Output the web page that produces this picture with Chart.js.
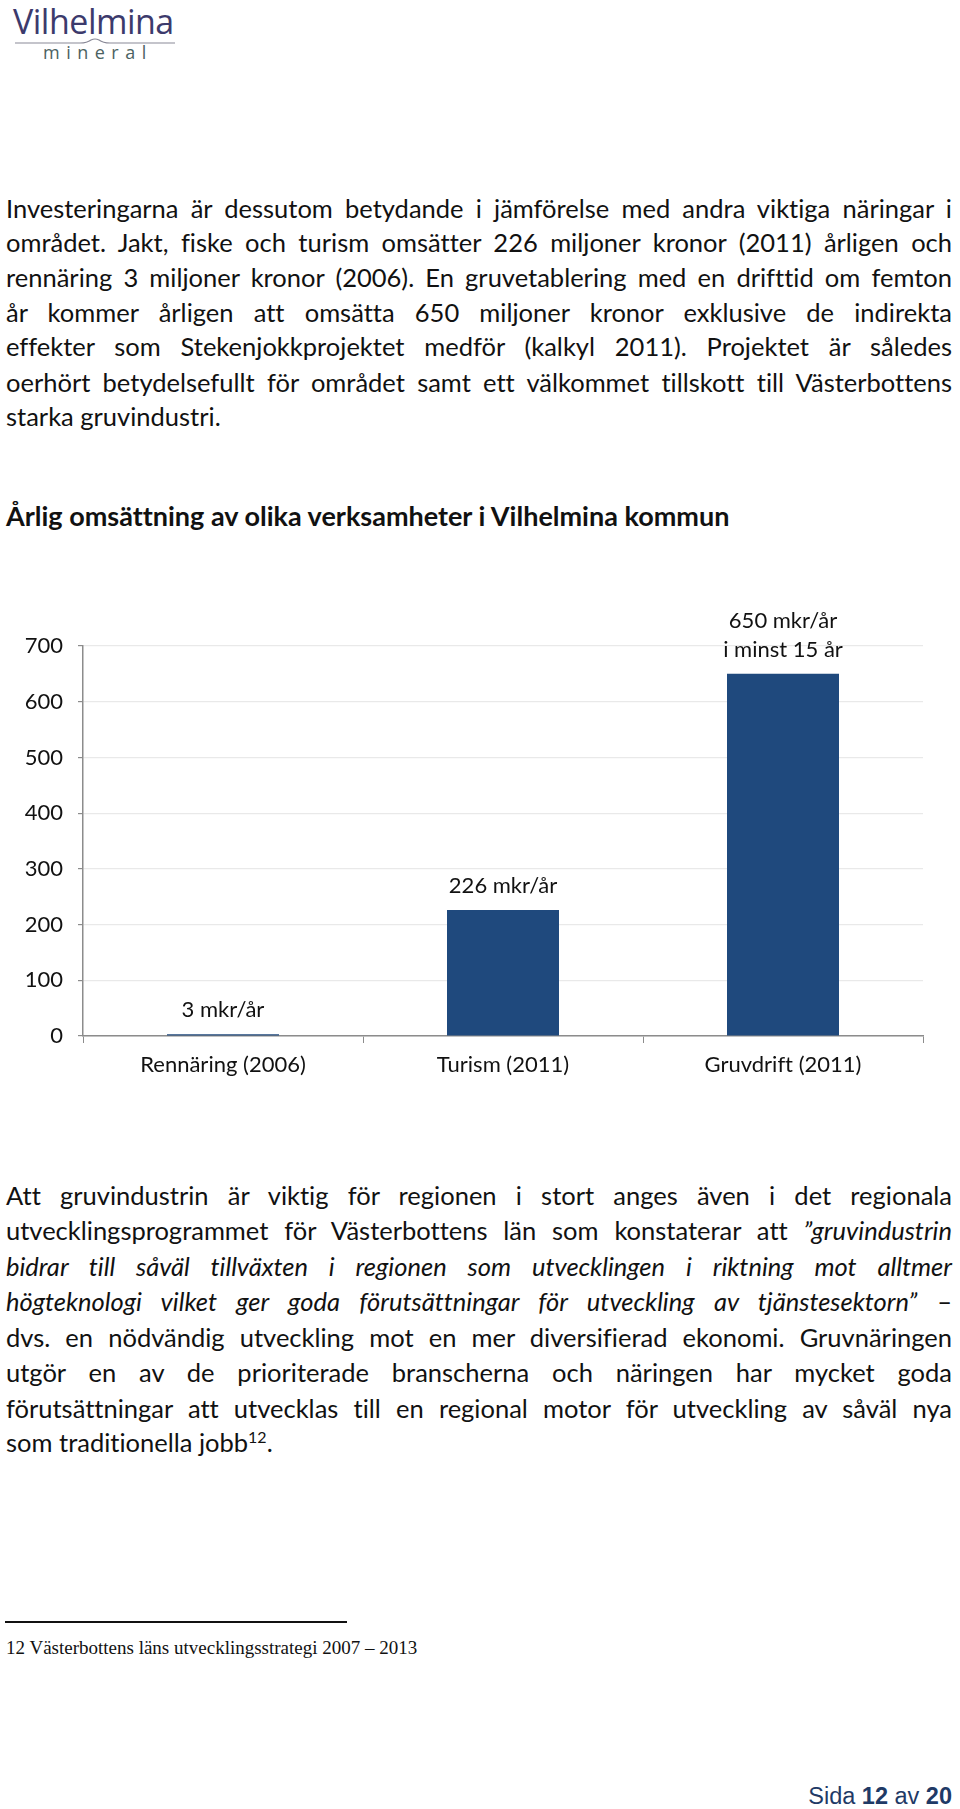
<!DOCTYPE html>
<html>
<head>
<meta charset="utf-8">
<script src="https://cdn.jsdelivr.net/npm/chart.js@4/dist/chart.umd.min.js"></script>
<style>
  html, body { margin:0; padding:0; background:#fff; }
  body { width:960px; height:1809px; position:relative; overflow:hidden; font-variant-ligatures:none; font-feature-settings:"liga" 0; }
  .ln { position:absolute; left:6px; width:946px; font-family:Lato, "Open Sans", sans-serif; font-size:25.5px; line-height:34px; height:34px; color:#111; text-align:justify; text-align-last:justify; }
  .ln.last { text-align-last:left; }
  .title { position:absolute; left:6px; top:499px; font-family:Lato, sans-serif; font-weight:bold; font-size:27px; line-height:34px; color:#111; }
  #logo1 { position:absolute; left:13px; top:0px; font-family:"Open Sans", Lato, sans-serif; font-size:34px; color:#3c3a6c; letter-spacing:-0.5px; line-height:42px; }
  #logo2 { position:absolute; left:43px; top:40px; font-family:"Open Sans", Lato, sans-serif; font-size:18px; color:#4b6262; letter-spacing:6.5px; line-height:24px; }
  #logoline { position:absolute; left:15px; top:37px; width:160px; height:10px; }
  #chartwrap { position:absolute; left:0; top:590px; width:960px; height:500px; }
  #fnline { position:absolute; left:5px; top:1621px; width:342px; height:1.5px; background:#111; }
  #fn { position:absolute; left:6px; top:1636px; font-family:"Liberation Serif", serif; font-size:19px; line-height:24px; color:#111; }
  #page { position:absolute; right:8px; top:1782px; font-family:"Liberation Sans", Arial, sans-serif; font-size:23.5px; line-height:28px; color:#1f3a66; }
  i { font-style:italic; }
</style>
</head>
<body>
<div id="logo1">Vilhelmina</div>
<svg id="logoline" viewBox="0 0 160 10"><path d="M0 6 L65 6 Q72 6 76 3 Q80 1 84 3 Q88 6 95 6 L160 6" stroke="#8a8a98" stroke-width="1.2" fill="none"/></svg>
<div id="logo2">mineral</div>

<div class="ln" style="top:191px">Investeringarna är dessutom betydande i jämförelse med andra viktiga näringar i</div>
<div class="ln" style="top:225px">området. Jakt, fiske och turism omsätter 226 miljoner kronor (2011) årligen och</div>
<div class="ln" style="top:260px">rennäring 3 miljoner kronor (2006). En gruvetablering med en drifttid om femton</div>
<div class="ln" style="top:295px">år kommer årligen att omsätta 650 miljoner kronor exklusive de indirekta</div>
<div class="ln" style="top:329px">effekter som Stekenjokkprojektet medför (kalkyl 2011). Projektet är således</div>
<div class="ln" style="top:365px">oerhört betydelsefullt för området samt ett välkommet tillskott till Västerbottens</div>
<div class="ln last" style="top:399px">starka gruvindustri.</div>

<div class="title">Årlig omsättning av olika verksamheter i Vilhelmina kommun</div>

<div id="chartwrap"><canvas id="c" width="960" height="500"></canvas></div>

<div class="ln" style="top:1178px">Att gruvindustrin är viktig för regionen i stort anges även i det regionala</div>
<div class="ln" style="top:1213px">utvecklingsprogrammet för Västerbottens län som konstaterar att <i>”gruvindustrin</i></div>
<div class="ln" style="top:1249px"><i>bidrar till såväl tillväxten i regionen som utvecklingen i riktning mot alltmer</i></div>
<div class="ln" style="top:1284px"><i>högteknologi vilket ger goda förutsättningar för utveckling av tjänstesektorn”</i> –</div>
<div class="ln" style="top:1320px">dvs. en nödvändig utveckling mot en mer diversifierad ekonomi. Gruvnäringen</div>
<div class="ln" style="top:1355px">utgör en av de prioriterade branscherna och näringen har mycket goda</div>
<div class="ln" style="top:1391px">förutsättningar att utvecklas till en regional motor för utveckling av såväl nya</div>
<div class="ln last" style="top:1425px">som traditionella jobb<sup style="font-size:16px;line-height:0">12</sup>.</div>

<div id="fnline"></div>
<div id="fn">12 Västerbottens läns utvecklingsstrategi 2007 – 2013</div>
<div id="page">Sida <b>12</b> av <b>20</b></div>

<script>
// keep every text line on one row
document.querySelectorAll('.ln').forEach(el => {
  let ls = 0;
  while (el.scrollHeight > 40 && ls > -2) { ls -= 0.1; el.style.letterSpacing = ls.toFixed(2) + 'px'; }
});

const categories = ["Rennäring (2006)", "Turism (2011)", "Gruvdrift (2011)"];
const values = [3, 226, 650];
const barLabels = [["3 mkr/år"], ["226 mkr/år"], ["650 mkr/år", "i minst 15 år"]];
const yTicks = [0, 100, 200, 300, 400, 500, 600, 700];

const FONT = "Lato, 'Open Sans', sans-serif";

const labelPlugin = {
  id: 'barLabels',
  afterDatasetsDraw(chart) {
    const ctx = chart.ctx;
    const meta = chart.getDatasetMeta(0);
    ctx.save();
    ctx.font = "22px " + FONT;
    ctx.fillStyle = "#111";
    ctx.textAlign = "center";
    ctx.textBaseline = "middle";
    meta.data.forEach((bar, i) => {
      const lines = barLabels[i];
      const n = lines.length;
      lines.forEach((t, k) => {
        const y = bar.y - 24 - (n - 1 - k) * 29;
        ctx.fillText(t, bar.x, y);
      });
    });
    ctx.restore();
  }
};

new Chart(document.getElementById('c'), {
  type: 'bar',
  data: {
    labels: categories,
    datasets: [{
      data: values,
      backgroundColor: '#1F497D',
      borderWidth: 0,
      categoryPercentage: 0.8,
      barPercentage: 0.5
    }]
  },
  options: {
    responsive: false,
    animation: false,
    devicePixelRatio: 1,
    layout: { padding: { top: 56, right: 37, left: 0, bottom: 0 } },
    plugins: { legend: { display: false }, tooltip: { enabled: false } },
    scales: {
      x: {
        afterFit: (s) => { s.height = 54; },
        border: { display: true, color: '#8c8c8c', width: 1.5 },
        grid: { display: true, drawOnChartArea: false, drawTicks: true, tickLength: 7, color: '#8c8c8c', offset: true },
        ticks: { font: { family: FONT, size: 22 }, color: '#111', padding: 9 }
      },
      y: {
        min: 0, max: 700,
        afterFit: (s) => { s.width = 83; },
        afterBuildTicks: (s) => { s.ticks = yTicks.map(v => ({ value: v })); },
        border: { display: true, color: '#8c8c8c', width: 1.5 },
        grid: { color: '#e9e9e9', lineWidth: 1.2, tickLength: 5, tickColor: '#8c8c8c' },
        ticks: { font: { family: FONT, size: 22 }, color: '#111', padding: 15 }
      }
    }
  },
  plugins: [labelPlugin]
});
</script>
</body>
</html>
